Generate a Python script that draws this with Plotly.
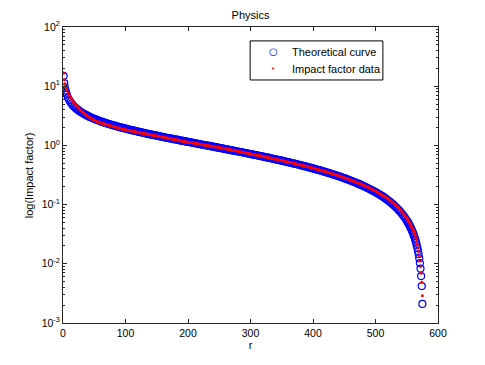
import plotly.graph_objects as go

# rank of each journal (start and tail rank by rank, the dense middle every 2 ranks)
RANKS = [1, 2, 3, 4, 5] + list(range(6, 551, 2)) + list(range(551, 576))

THEORY = [
    15.0, 11.3, 9.57, 8.50, 7.75,
    7.18, 6.37, 5.80, 5.37, 5.02, 4.74, 4.50, 4.30, 4.12, 3.97, 3.82, 3.70, 3.58,
    3.48, 3.39, 3.30, 3.21, 3.13,
    3.06, 2.99, 2.93, 2.87, 2.81,
    2.75, 2.70, 2.65, 2.60, 2.56,
    2.52, 2.47, 2.43, 2.40, 2.36,
    2.32, 2.29, 2.25, 2.22, 2.19,
    2.16, 2.13, 2.10, 2.07, 2.04,
    2.02, 1.99, 1.97, 1.94, 1.92,
    1.90, 1.87, 1.85, 1.83, 1.81,
    1.79, 1.77, 1.75, 1.73, 1.71,
    1.69, 1.67, 1.65, 1.64, 1.62,
    1.60, 1.58, 1.56, 1.55, 1.53,
    1.52, 1.51, 1.49, 1.48, 1.46,
    1.44, 1.43, 1.41, 1.40, 1.39,
    1.37, 1.36, 1.34, 1.33, 1.32,
    1.31, 1.30, 1.28, 1.27, 1.26,
    1.25, 1.24, 1.22, 1.21, 1.20,
    1.19, 1.18, 1.165, 1.155, 1.146,
    1.136, 1.125, 1.115, 1.104, 1.094,
    1.084, 1.074, 1.064, 1.054, 1.044,
    1.034, 1.025, 1.015, 1.006, 0.997,
    0.988, 0.979, 0.970, 0.961, 0.952,
    0.943, 0.934, 0.926, 0.917, 0.909,
    0.901, 0.892, 0.884, 0.875, 0.867,
    0.859, 0.851, 0.843, 0.835, 0.827,
    0.819, 0.812, 0.804, 0.797, 0.789,
    0.781, 0.774, 0.766, 0.759, 0.751,
    0.744, 0.737, 0.729, 0.722, 0.715,
    0.708, 0.701, 0.695, 0.688, 0.681,
    0.674, 0.667, 0.661, 0.654, 0.647,
    0.640, 0.633, 0.627, 0.620, 0.614,
    0.608, 0.601, 0.595, 0.588, 0.582,
    0.576, 0.570, 0.564, 0.557, 0.551,
    0.545, 0.539, 0.533, 0.527, 0.521,
    0.515, 0.509, 0.503, 0.498, 0.492,
    0.486, 0.480, 0.474, 0.469, 0.463,
    0.457, 0.452, 0.446, 0.441, 0.435,
    0.429, 0.424, 0.418, 0.413, 0.408,
    0.402, 0.397, 0.391, 0.386, 0.381,
    0.376, 0.371, 0.365, 0.360, 0.355,
    0.350, 0.345, 0.339, 0.334, 0.329,
    0.324, 0.319, 0.314, 0.309, 0.304,
    0.299, 0.294, 0.289, 0.284, 0.279,
    0.274, 0.269, 0.265, 0.260, 0.255,
    0.250, 0.245, 0.241, 0.236, 0.231,
    0.226, 0.221, 0.217, 0.212, 0.208,
    0.203, 0.198, 0.194, 0.189, 0.185,
    0.180, 0.175, 0.171, 0.166, 0.162,
    0.158, 0.153, 0.149, 0.144, 0.140,
    0.136, 0.131, 0.127, 0.122, 0.118,
    0.114, 0.109, 0.105, 0.1006, 0.0962,
    0.0919, 0.0876, 0.0834, 0.0791, 0.0749,
    0.0707, 0.0664, 0.0622, 0.0580, 0.0538,
    0.0517, 0.0497, 0.0476, 0.0455, 0.0434, 0.0413, 0.0392, 0.0372, 0.0351, 0.0330,
    0.0310, 0.0289, 0.0268, 0.0248, 0.0227, 0.0206, 0.0186, 0.0165, 0.0145, 0.0124,
    0.0103, 0.0083, 0.0062, 0.0042, 0.0021,
]

IMPACT = [
    16.5, 12.8, 11.0, 10.0, 9.3,
    8.7, 7.7, 7.0, 6.45, 5.95, 5.5, 5.15, 4.85, 4.58, 4.33, 4.1, 3.9, 3.72,
    3.58, 3.43, 3.31, 3.20, 3.09,
    3.00, 2.91, 2.82, 2.75, 2.67,
    2.61, 2.56, 2.51, 2.46, 2.42,
    2.38, 2.35, 2.31, 2.28, 2.24,
    2.21, 2.18, 2.15, 2.12, 2.09,
    2.06, 2.03, 2.01, 1.98, 1.95,
    1.93, 1.90, 1.88, 1.86, 1.84,
    1.82, 1.80, 1.78, 1.77, 1.75,
    1.73, 1.72, 1.70, 1.68, 1.66,
    1.64, 1.63, 1.61, 1.60, 1.59,
    1.57, 1.56, 1.54, 1.53, 1.51,
    1.50, 1.49, 1.47, 1.46, 1.45,
    1.43, 1.42, 1.40, 1.39, 1.38,
    1.37, 1.36, 1.34, 1.33, 1.31,
    1.30, 1.29, 1.27, 1.26, 1.25,
    1.24, 1.23, 1.21, 1.20, 1.19,
    1.18, 1.17, 1.15, 1.14, 1.13,
    1.122, 1.114, 1.106, 1.098, 1.09,
    1.082, 1.074, 1.066, 1.058, 1.05,
    1.038, 1.026, 1.016, 1.008, 1.00,
    0.992, 0.984, 0.976, 0.968, 0.96,
    0.952, 0.944, 0.936, 0.928, 0.92,
    0.912, 0.904, 0.896, 0.888, 0.88,
    0.872, 0.864, 0.856, 0.848, 0.84,
    0.832, 0.824, 0.816, 0.808, 0.80,
    0.792, 0.784, 0.776, 0.768, 0.76,
    0.752, 0.744, 0.736, 0.728, 0.72,
    0.712, 0.704, 0.697, 0.691, 0.685,
    0.679, 0.673, 0.666, 0.659, 0.652,
    0.645, 0.638, 0.632, 0.625, 0.618,
    0.611, 0.604, 0.597, 0.592, 0.587,
    0.581, 0.575, 0.569, 0.562, 0.556,
    0.550, 0.543, 0.537, 0.531, 0.525,
    0.519, 0.513, 0.507, 0.502, 0.497,
    0.491, 0.486, 0.480, 0.474, 0.468,
    0.463, 0.458, 0.452, 0.446, 0.44,
    0.435, 0.430, 0.424, 0.419, 0.414,
    0.408, 0.403, 0.397, 0.392, 0.387,
    0.382, 0.377, 0.371, 0.366, 0.361,
    0.356, 0.351, 0.345, 0.340, 0.335,
    0.330, 0.325, 0.320, 0.315, 0.31,
    0.305, 0.300, 0.295, 0.290, 0.285,
    0.280, 0.275, 0.271, 0.266, 0.261,
    0.256, 0.251, 0.247, 0.242, 0.237,
    0.233, 0.228, 0.224, 0.219, 0.214,
    0.210, 0.205, 0.201, 0.196, 0.191,
    0.187, 0.182, 0.178, 0.173, 0.169,
    0.165, 0.160, 0.156, 0.151, 0.147,
    0.143, 0.138, 0.134, 0.129, 0.125,
    0.121, 0.116, 0.112, 0.107, 0.103,
    0.0986, 0.0942, 0.0898, 0.0854, 0.081,
    0.0766, 0.0722, 0.0678, 0.0634, 0.059,
    0.057, 0.055, 0.053, 0.050, 0.048, 0.046, 0.044, 0.042, 0.040, 0.038,
    0.036, 0.034, 0.032, 0.030, 0.027, 0.024, 0.021, 0.0185, 0.016, 0.0135,
    0.0112, 0.0090, 0.0069, 0.0049, 0.0029,
]

Y_TICKS = [1e-3, 1e-2, 1e-1, 1, 10, 100]
Y_TICKTEXT = ["10<sup>-3</sup>", "10<sup>-2</sup>", "10<sup>-1</sup>",
              "10<sup>0</sup>", "10<sup>1</sup>", "10<sup>2</sup>"]
Y_MINOR = [m * t for t in Y_TICKS[:-1] for m in range(2, 10)]

FONT = "Liberation Sans, Arial, sans-serif"
AXIS_COL = "#262626"
BLUE = "#0000ff"
RED = "#ff0000"

fig = go.Figure()
fig.add_trace(go.Scatter(
    x=RANKS, y=THEORY, mode="markers", name="Theoretical curve",
    marker=dict(symbol="circle-open", size=7, color=BLUE,
                line=dict(width=1.2, color=BLUE)),
))
fig.add_trace(go.Scatter(
    x=RANKS, y=IMPACT, mode="markers", name="Impact factor data",
    marker=dict(symbol="circle", size=3, color=RED),
))

# legend box drawn by hand (matlab style, compact)
fig.add_shape(type="rect", xref="paper", yref="paper",
              x0=0.499, x1=0.853, y0=0.821, y1=0.953,
              line=dict(color="#000000", width=1), fillcolor="white", layer="above")
legend_rows = [("Theoretical curve", "○", BLUE, 10, 0.917),
               ("Impact factor data", "•", RED, 7, 0.857)]
for label, glyph, col, gsize, yy in legend_rows:
    fig.add_annotation(x=0.561, y=yy, xref="paper", yref="paper", text=glyph,
                       showarrow=False, xanchor="center", yanchor="middle",
                       font=dict(family="DejaVu Sans", size=gsize, color=col))
    fig.add_annotation(x=0.606, y=yy, xref="paper", yref="paper", text=label,
                       showarrow=False, xanchor="left", yanchor="middle",
                       font=dict(size=11, color="#000000"))

# y axis title placed as a rotated annotation (closer to the ticks than standoff allows)
fig.add_annotation(x=-0.09, y=0.5, xref="paper", yref="paper",
                   text="log(Impact factor)", textangle=-90, showarrow=False,
                   xanchor="center", yanchor="middle", font=dict(size=11))

# page body has an 8px margin, so the figure is 8px smaller than the window
fig.update_layout(
    width=477, height=357,
    margin=dict(l=55, r=47, t=19, b=42),
    paper_bgcolor="white", plot_bgcolor="white",
    font=dict(family=FONT, size=11, color="#000000"),
    title=dict(text="Physics", x=0.5, xref="paper", xanchor="center",
               y=1 - 7 / 357, yref="container", yanchor="middle",
               font=dict(size=11)),
    showlegend=False,
    xaxis=dict(range=[0, 600], dtick=100, showgrid=False, zeroline=False,
               showline=True, linecolor=AXIS_COL, linewidth=1, mirror="ticks",
               ticks="inside", ticklen=4, tickcolor=AXIS_COL,
               tickfont=dict(size=10.5),
               title=dict(text="r", standoff=3, font=dict(size=11))),
    yaxis=dict(type="log", range=[-3, 2], tickmode="array",
               tickvals=Y_TICKS, ticktext=Y_TICKTEXT,
               showgrid=False, zeroline=False,
               showline=True, linecolor=AXIS_COL, linewidth=1, mirror="ticks",
               ticks="inside", ticklen=4, tickcolor=AXIS_COL,
               tickfont=dict(size=10.5),
               minor=dict(tickmode="array", tickvals=Y_MINOR, ticks="inside",
                          ticklen=2, tickcolor=AXIS_COL, showgrid=False)),
)

fig.write_html("out.html")
